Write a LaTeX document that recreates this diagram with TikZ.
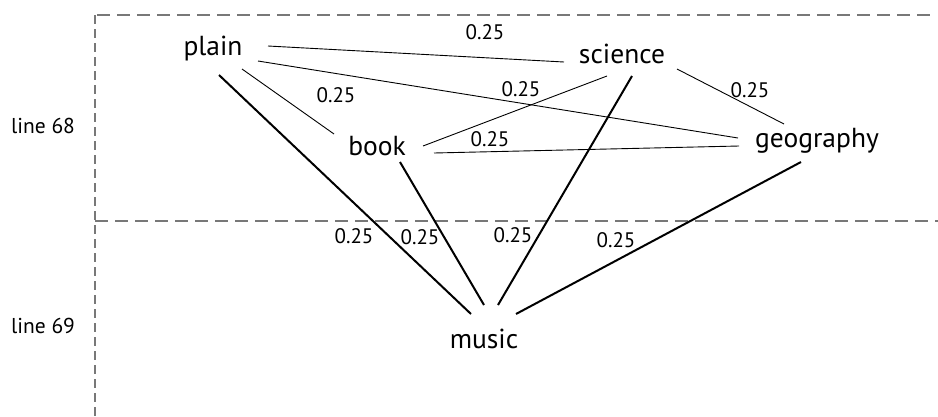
\documentclass[tikz,border=0pt]{standalone}
\usepackage{fontspec}
\setmainfont{PT Sans}
\usepackage{tikz}
\usetikzlibrary{positioning}
\definecolor{okvirsiva}{RGB}{120,120,120}

\begin{document}
\begin{tikzpicture}[
    x=1pt, y=-1pt,
    rijec/.style={inner sep=0pt, anchor=base, font=\fontsize{27.5}{32}\selectfont},
    tezina/.style={inner sep=0pt, font=\fontsize{21}{25}\selectfont},
    redak/.style={inner sep=0pt, anchor=base, font=\fontsize{21.5}{25}\selectfont},
    tanka/.style={line width=0.9pt},
    debela/.style={line width=2pt},
    okvir/.style={okvirsiva, line width=1.3pt, dash pattern=on 13pt off 7pt},
    okvirv/.style={okvirsiva, line width=1.3pt, dash pattern=on 9pt off 5pt}
]
\useasboundingbox (0,0) rectangle (938,416);

% okvir i razdjelnica
\draw[okvir] (97,15) -- (932,15);
\draw[okvir] (95,221) -- (938,221);
\draw[okvirv] (95,15) -- (95,416);

\node[redak] (red68) at (43,133) {line 68};
\node[redak] (red69) at (43,333) {line 69};

% rijeci
\node[rijec] (plain) at (213,55) {plain};
\node[rijec] (science) at (622,63) {science};
\node[rijec] (book) at (377,155) {book};
\node[rijec] (geography) at (817,147) {geography};
\node[rijec] (music) at (484,348) {music};

% tanke veze
\draw[tanka] ([shift={(55,-9)}]plain.base) -- ([shift={(-58,-1)}]science.base);
\draw[tanka] ([shift={(45,6)}]plain.base) -- ([shift={(-79,-9)}]geography.base);
\draw[tanka] ([shift={(29,14)}]plain.base) -- ([shift={(-43,-21)}]book.base);
\draw[tanka] ([shift={(46,-9)}]book.base) -- ([shift={(-15,13)}]science.base);
\draw[tanka] ([shift={(57,-2)}]book.base) -- ([shift={(-78,-1)}]geography.base);
\draw[tanka] ([shift={(55,6)}]science.base) -- ([shift={(-33,-23)}]geography.base);

% debele veze prema music
\draw[debela] ([shift={(6,20)}]plain.base) -- ([shift={(-13,-34)}]music.base);
\draw[debela] ([shift={(23,7)}]book.base) -- ([shift={(0,-43)}]music.base);
\draw[debela] ([shift={(10,13)}]science.base) -- ([shift={(14,-43)}]music.base);
\draw[debela] ([shift={(-16,15)}]geography.base) -- ([shift={(32,-34)}]music.base);

% tezine
\node[tezina] (t1) at (485,32) {0.25};
\node[tezina] (t2) at (336,95) {0.25};
\node[tezina] (t3) at (521,89) {0.25};
\node[tezina] (t4) at (490,139) {0.25};
\node[tezina] (t5) at (750,90) {0.25};
\node[tezina] (t6) at (354,236) {0.25};
\node[tezina] (t7) at (420,237) {0.25};
\node[tezina] (t8) at (513,235) {0.25};
\node[tezina] (t9) at (616,240) {0.25};
\end{tikzpicture}
\end{document}
